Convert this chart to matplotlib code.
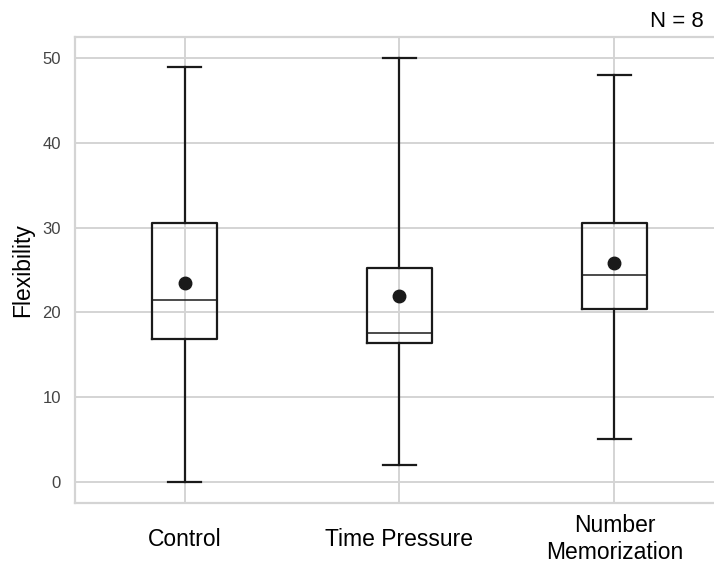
import matplotlib.pyplot as plt

plt.rcParams['font.family'] = ['Liberation Sans', 'DejaVu Sans']

# data
groups = ['Control', 'Time Pressure', 'Number\nMemorization']
mins = [0, 2, 5]
q1s = [16.8, 16.4, 20.4]
medians = [21.5, 17.5, 24.4]
q3s = [30.5, 25.2, 30.5]
maxs = [49, 50, 48]
means = [23.4, 21.9, 25.8]

stats = []
for i in range(len(groups)):
    stats.append(dict(whislo=mins[i], q1=q1s[i], med=medians[i], q3=q3s[i],
                      whishi=maxs[i], mean=means[i], fliers=[]))

fig = plt.figure(figsize=(7.14, 5.67), dpi=100)
ax = fig.add_axes([0.105, 0.113, 0.909, 0.822])

pos = list(range(len(groups)))
line = dict(color='#1a1a1a', linewidth=1.6)
ax.bxp(stats, positions=pos, widths=0.3, showmeans=True, showfliers=False,
       boxprops=line, whiskerprops=line, capprops=line,
       medianprops=dict(color='#1a1a1a', linewidth=1.1),
       meanprops=dict(marker='o', markerfacecolor='#1a1a1a',
                      markeredgecolor='#1a1a1a', markersize=9),
       capwidths=0.155)

ax.set_xlim(-0.51, 2.51)
ax.set_ylim(-2.5, 52.5)
ax.set_yticks([0, 10, 20, 30, 40, 50])
ax.set_xticks(pos)
ax.set_xticklabels(groups, fontsize=16.5, color='black', va='center')
ax.tick_params(axis='x', length=0, pad=26)
ax.tick_params(axis='y', length=0, pad=10, labelsize=12, labelcolor='#444444')
ax.grid(True, color='#d4d4d4', linewidth=1.4)
ax.set_axisbelow(True)
for s in ax.spines.values():
    s.set_color('#d4d4d4')
    s.set_linewidth(1.6)
ax.spines['right'].set_visible(False)

ax.set_ylabel('Flexibility', fontsize=16.5, labelpad=6)
fig.text(0.985, 0.962, 'N = 8', ha='right', va='center', fontsize=16)

fig.savefig('out.png', dpi=100)
